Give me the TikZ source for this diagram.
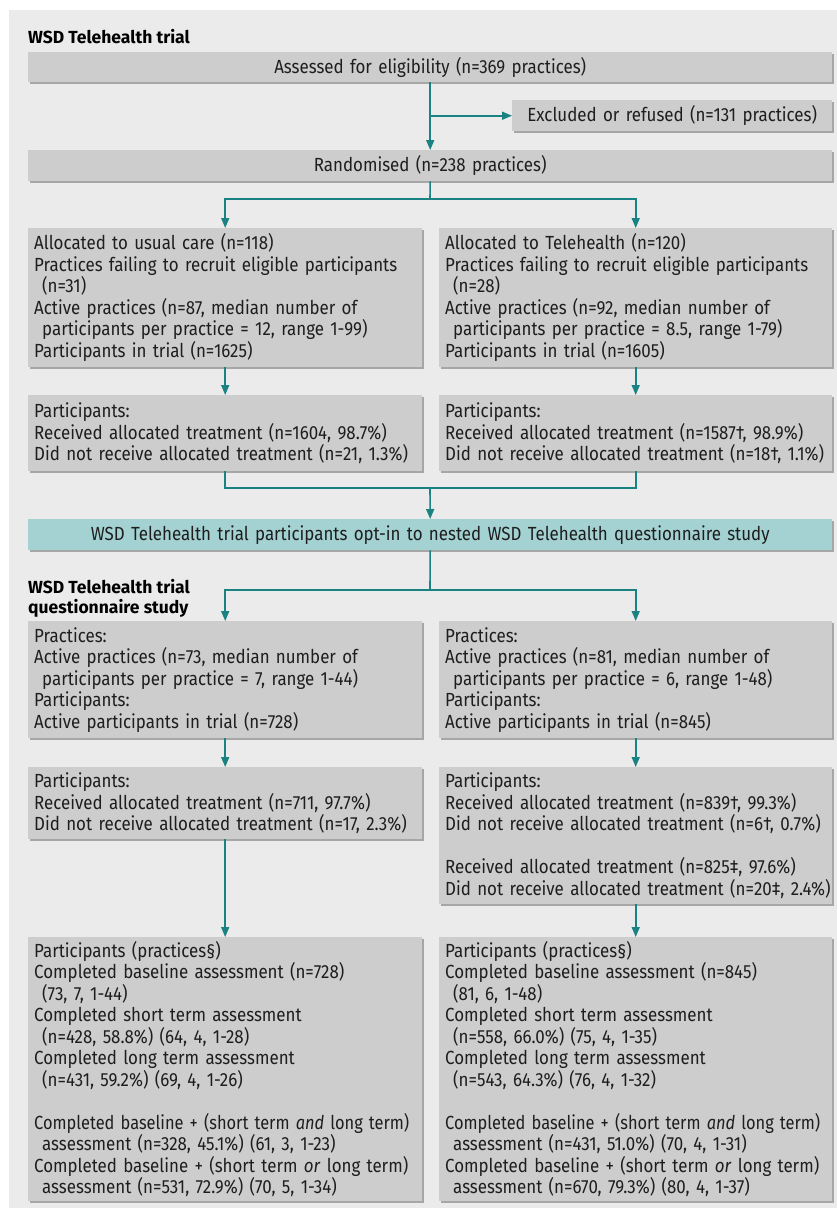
\documentclass[tikz,border=0pt]{standalone}
\usepackage{fontspec}
\usepackage{graphicx}
\setmainfont[FakeStretch=0.89]{Fira Sans}
\newfontfamily\ttlfont{Fira Sans}
\usetikzlibrary{arrows.meta,shadows}
\definecolor{bggray}{HTML}{EBEBEB}
\definecolor{boxgray}{HTML}{CDCDCD}
\definecolor{shadowgray}{HTML}{A6A6A6}
\definecolor{tealline}{HTML}{1A8282}
\definecolor{tealbox}{HTML}{A4D2D2}
\definecolor{txt}{HTML}{1E1E1E}
\newcommand\hind{\hspace*{8pt}}
\newcommand\lne[1]{\mbox{#1}}
\newcommand\lnc[1]{\mbox{\scalebox{0.97}[1]{#1}}}
\begin{document}
\begin{tikzpicture}[x=1pt,y=-1pt,
  box/.style={fill=boxgray, draw=none, anchor=north west, inner xsep=6pt, inner ysep=0pt,
    align=left, text=txt, font=\fontsize{19}{21.5}\selectfont,
    drop shadow={shadow xshift=1.5pt, shadow yshift=-2pt, fill=shadowgray, opacity=1}},
  cbox/.style={box, align=center},
  ttl/.style={anchor=north west, inner sep=0pt, align=left, text=black,
    font=\ttlfont\bfseries\fontsize{17.5}{20.5}\selectfont},
  conn/.style={draw=tealline, line width=1.6pt},
  arr/.style={conn, -{Triangle[width=8pt,length=10pt]}}]
\useasboundingbox (0,0) rectangle (837,1208);
\fill[bggray] (9,10) rectangle (837,1208);

\node[ttl] (t1) at (28,29) {WSD Telehealth trial};
\node[ttl] (t2) at (28,579) {WSD Telehealth trial\\questionnaire study};

\node[cbox, text width=792pt, minimum height=30pt] (assess) at (28,52) {Assessed for eligibility (n=369 practices)};
\node[cbox, text width=308pt, minimum height=31pt] (excl) at (512,100) {Excluded or refused (n=131 practices)};
\node[cbox, text width=792pt, minimum height=31pt] (rand) at (28,150) {Randomised (n=238 practices)};

\node[box, text width=382pt, minimum height=139pt] (allocL) at (28,228) {\lne{Allocated to usual care (n=118)}\\
\lne{Practices failing to recruit eligible participants}\\
\lne{\hind(n=31)}\\
\lne{Active practices (n=87, median number of}\\
\lne{\hind participants per practice = 12, range 1-99)}\\
\lne{Participants in trial (n=1625)}};
\node[box, text width=381pt, minimum height=139pt] (allocR) at (439,228) {\lne{Allocated to Telehealth (n=120)}\\
\lne{Practices failing to recruit eligible participants}\\
\lne{\hind(n=28)}\\
\lne{Active practices (n=92, median number of}\\
\lne{\hind participants per practice = 8.5, range 1-79)}\\
\lne{Participants in trial (n=1605)}};

\node[box, text width=382pt, minimum height=76pt] (partL) at (28,395) {\lne{Participants:}\\
\lne{Received allocated treatment (n=1604, 98.7\%)}\\
\lne{Did not receive allocated treatment (n=21, 1.3\%)}};
\node[box, text width=381pt, minimum height=76pt] (partR) at (439,395) {\lne{Participants:}\\
\lne{Received allocated treatment (n=1587†, 98.9\%)}\\
\lne{Did not receive allocated treatment (n=18†, 1.1\%)}};

\node[cbox, fill=tealbox, text width=792pt, minimum height=31pt] (optin) at (28,519) {WSD Telehealth trial participants opt-in to nested WSD Telehealth questionnaire study};

\node[box, text width=382pt, minimum height=117pt] (questL) at (28,621) {\lne{Practices:}\\
\lne{Active practices (n=73, median number of}\\
\lne{\hind participants per practice = 7, range 1-44)}\\
\lne{Participants:}\\
\lne{Active participants in trial (n=728)}};
\node[box, text width=381pt, minimum height=117pt] (questR) at (439,621) {\lne{Practices:}\\
\lne{Active practices (n=81, median number of}\\
\lne{\hind participants per practice = 6, range 1-48)}\\
\lne{Participants:}\\
\lne{Active participants in trial (n=845)}};

\node[box, text width=382pt, minimum height=72pt] (recL) at (28,767) {\lne{Participants:}\\
\lne{Received allocated treatment (n=711, 97.7\%)}\\
\lne{Did not receive allocated treatment (n=17, 2.3\%)}};
\node[box, text width=381pt, minimum height=137pt] (recR) at (439,767) {\lne{Participants:}\\
\lne{Received allocated treatment (n=839†, 99.3\%)}\\
\lne{Did not receive allocated treatment (n=6†, 0.7\%)}\\[21.5pt]
\lne{Received allocated treatment (n=825‡, 97.6\%)}\\
\lne{Did not receive allocated treatment (n=20‡, 2.4\%)}};

\node[box, text width=382pt, minimum height=264pt] (finalL) at (28,937) {\lne{Participants (practices§)}\\
\lne{Completed baseline assessment (n=728)}\\
\lne{\hind(73, 7, 1-44)}\\
\lne{Completed short term assessment}\\
\lne{\hind(n=428, 58.8\%) (64, 4, 1-28)}\\
\lne{Completed long term assessment}\\
\lne{\hind(n=431, 59.2\%) (69, 4, 1-26)}\\[21.5pt]
\lnc{Completed baseline + (short term \textit{and} long term)}\\
\lne{\hind assessment (n=328, 45.1\%) (61, 3, 1-23)}\\
\lne{Completed baseline + (short term \textit{or} long term)}\\
\lne{\hind assessment (n=531, 72.9\%) (70, 5, 1-34)}};
\node[box, text width=381pt, minimum height=264pt] (finalR) at (439,937) {\lne{Participants (practices§)}\\
\lne{Completed baseline assessment (n=845)}\\
\lne{\hind(81, 6, 1-48)}\\
\lne{Completed short term assessment}\\
\lne{\hind(n=558, 66.0\%) (75, 4, 1-35)}\\
\lne{Completed long term assessment}\\
\lne{\hind(n=543, 64.3\%) (76, 4, 1-32)}\\[21.5pt]
\lnc{Completed baseline + (short term \textit{and} long term)}\\
\lne{\hind assessment (n=431, 51.0\%) (70, 4, 1-31)}\\
\lne{Completed baseline + (short term \textit{or} long term)}\\
\lne{\hind assessment (n=670, 79.3\%) (80, 4, 1-37)}};

\coordinate (b1) at (assess.south |- excl.west);
\coordinate (j1) at (430,199);
\coordinate (j2) at (430,488);
\coordinate (j3) at (430,590);

\draw[arr] (assess.south) -- (rand.north);
\draw[arr] (b1) -- (excl.west);
\draw[conn] (rand.south) -- (j1);
\draw[arr] (j1) -| (allocL.north);
\draw[arr] (j1) -| (allocR.north);
\draw[arr] (allocL.south) -- (partL.north);
\draw[arr] (allocR.south) -- (partR.north);
\draw[conn] (partL.south) |- (j2);
\draw[conn] (partR.south) |- (j2);
\draw[arr] (j2) -- (optin.north);
\draw[conn] (optin.south) -- (j3);
\draw[arr] (j3) -| (questL.north);
\draw[arr] (j3) -| (questR.north);
\draw[arr] (questL.south) -- (recL.north);
\draw[arr] (questR.south) -- (recR.north);
\draw[arr] (recL.south) -- (finalL.north);
\draw[arr] (recR.south) -- (finalR.north);
\end{tikzpicture}
\end{document}
